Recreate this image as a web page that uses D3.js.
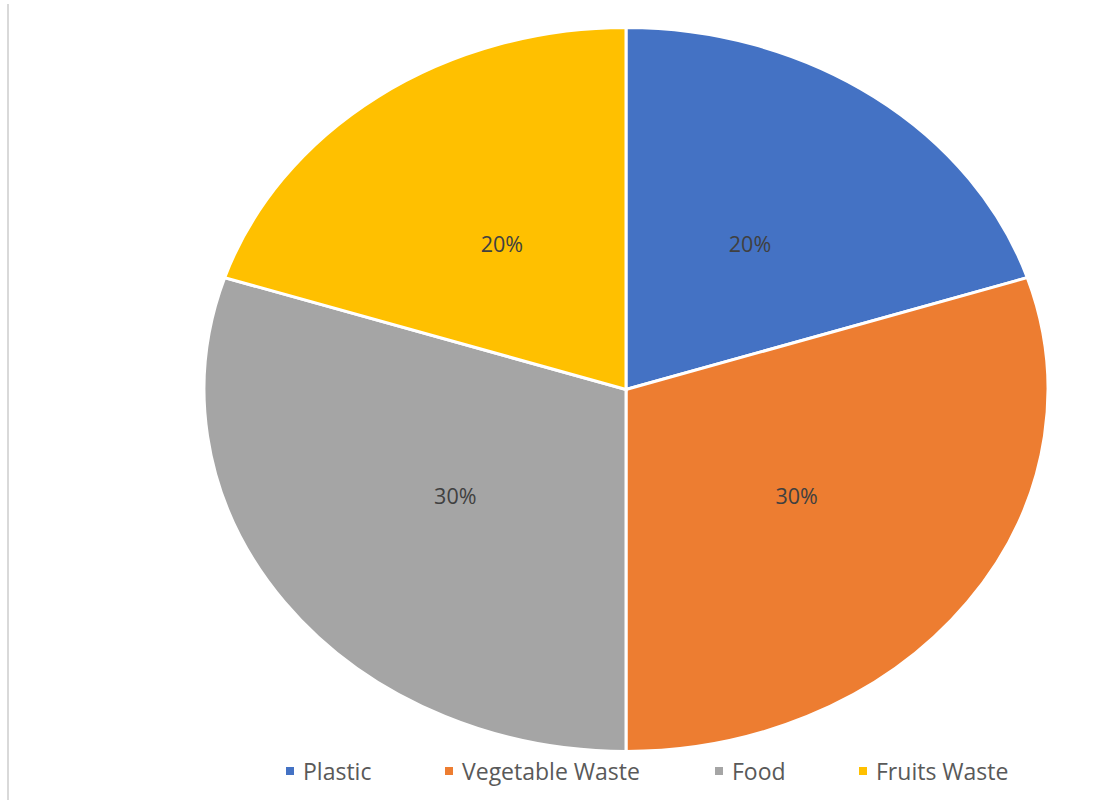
<!DOCTYPE html>
<html><head><meta charset="utf-8">
<script src="https://cdn.jsdelivr.net/npm/d3@7"></script>
<style>html,body{margin:0;padding:0;background:#fff;}svg{display:block;}</style>
</head><body>
<svg id="chart" width="1112" height="802"></svg>
<script>
const categories = ["Plastic", "Vegetable Waste", "Food", "Fruits Waste"];
const values = [20, 30, 30, 20];
const colors = ["#4472C4", "#ED7D31", "#A5A5A5", "#FFC000"];

const W = 1112, H = 802;
const cx = 626, cy = 389.5, rx = 422, ry = 362;
const svg = d3.select("#chart");

// frame line on the left
svg.append("line").attr("x1", 8).attr("x2", 8).attr("y1", 4).attr("y2", 800)
  .attr("stroke", "#d9d9d9").attr("stroke-width", 2);

const data = categories.map((c, i) => ({cat: c, val: values[i], color: colors[i]}));
const pie = d3.pie().value(d => d.val).sort(null);
const arcs = pie(data);
const arc = d3.arc().innerRadius(0).outerRadius(1);

const g = svg.append("g").attr("transform", `translate(${cx},${cy}) scale(${rx},${ry})`);
g.selectAll("path").data(arcs).join("path")
  .attr("d", arc)
  .attr("fill", d => d.data.color)
  .attr("stroke", "#fff")
  .attr("stroke-width", 3)
  .attr("vector-effect", "non-scaling-stroke");

const total = d3.sum(values);
const labelArc = d3.arc().innerRadius(0.5).outerRadius(0.5);
svg.append("g").selectAll("text").data(arcs).join("text")
  .attr("x", d => cx + labelArc.centroid(d)[0] * rx)
  .attr("y", d => cy + labelArc.centroid(d)[1] * ry)
  .attr("text-anchor", "middle")
  .attr("dominant-baseline", "central")
  .attr("font-family", "Open Sans, sans-serif")
  .attr("font-size", 21.5)
  .attr("fill", "#404040")
  .text(d => Math.round(d.data.val / total * 100) + "%");

// legend
const legendX = [286, 445, 715, 859];
const lg = svg.append("g").attr("font-family", "Open Sans, sans-serif").attr("font-size", 23);
data.forEach((d, i) => {
  lg.append("rect").attr("x", legendX[i]).attr("y", 767).attr("width", 8).attr("height", 8).attr("fill", d.color);
  lg.append("text").attr("x", legendX[i] + 17).attr("y", 771)
    .attr("dominant-baseline", "central").attr("fill", "#595959").text(d.cat);
});
</script>
</body></html>
